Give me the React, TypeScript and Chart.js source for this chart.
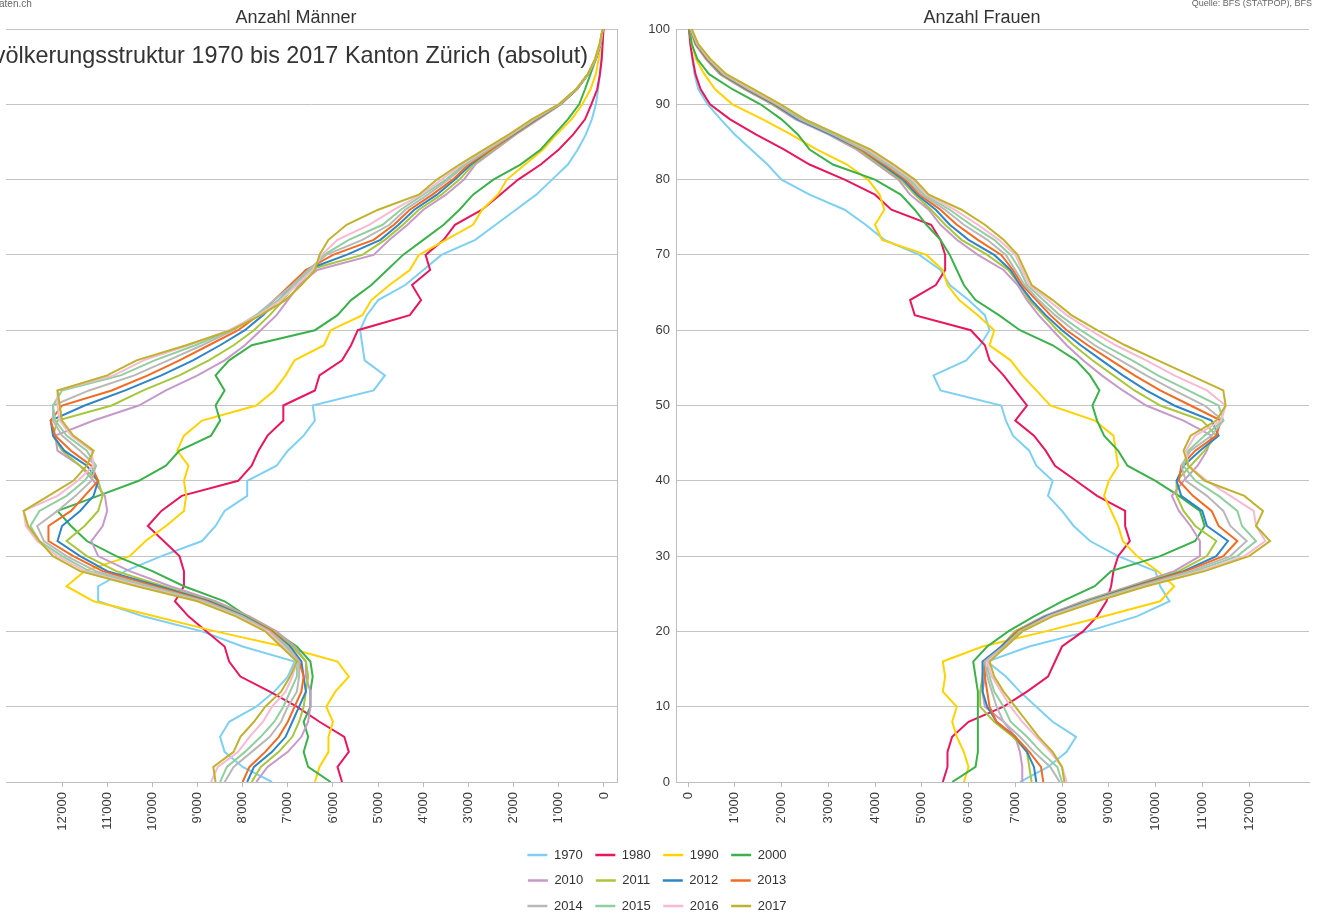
import { useEffect, useRef } from "react";
import { Chart, registerables } from "chart.js";

Chart.register(...registerables);

const FONT = "'Liberation Sans', Arial, sans-serif";

const AGES = [0, 2, 4, 6, 8, 10, 12, 14, 16, 18, 20, 22, 24, 26, 28, 30, 32, 34, 36, 38, 40, 42, 44, 46, 48, 50, 52, 54, 56, 58, 60, 62, 64, 66, 68, 70, 72, 74, 76, 78, 80, 82, 84, 86, 88, 90, 92, 94, 96, 98, 100];
const YEARS = ["1970", "1980", "1990", "2000", "2010", "2011", "2012", "2013", "2014", "2015", "2016", "2017"];
const COLORS = ["#7ed0f2", "#e8175d", "#ffd200", "#3cb14b", "#c699c9", "#a8c63c", "#2f84c6", "#f26b22", "#b8b8b8", "#91cf9f", "#f7b9d3", "#c0b22c"];
const X_TICKS = [0, 1000, 2000, 3000, 4000, 5000, 6000, 7000, 8000, 9000, 10000, 11000, 12000];

// Männer
const M1970 = [7350, 8000, 8400, 8500, 8300, 7700, 7300, 7000, 6850, 8000, 8900, 10200, 11200, 11200, 10600, 9800, 8900, 8600, 8400, 7900, 7900, 7250, 7000, 6650, 6400, 6450, 5100, 4850, 5300, 5350, 5400, 5250, 5000, 4400, 4000, 3600, 2850, 2400, 1950, 1500, 1150, 800, 580, 400, 270, 180, 130, 90, 60, 40, 20];
const M1980 = [5800, 5900, 5650, 5750, 6300, 6800, 7400, 8050, 8300, 8400, 8800, 9200, 9500, 9300, 9300, 9400, 9750, 10100, 9800, 9350, 8100, 7800, 7650, 7450, 7100, 7100, 6400, 6300, 5800, 5600, 5450, 4300, 4050, 4250, 3850, 3950, 3550, 3300, 2700, 2300, 1900, 1400, 1000, 680, 420, 280, 150, 90, 50, 30, 10];
const M1990 = [6400, 6300, 6100, 6100, 6000, 6150, 5950, 5650, 5900, 7100, 8600, 9950, 11300, 11900, 11500, 10500, 10150, 9700, 9300, 9250, 9300, 9200, 9450, 9300, 8900, 7700, 7300, 7050, 6850, 6200, 6050, 5350, 5150, 4750, 4300, 4100, 3500, 2900, 2700, 2350, 2150, 1750, 1350, 1050, 720, 480, 300, 180, 120, 70, 30];
const M2000 = [6050, 6550, 6650, 6550, 6650, 6500, 6500, 6450, 6500, 6800, 7300, 7900, 8400, 9300, 10000, 10800, 11450, 11800, 12100, 11200, 10300, 9700, 9400, 8700, 8500, 8600, 8400, 8600, 8300, 7800, 6400, 5900, 5600, 5150, 4800, 4450, 4000, 3550, 3200, 2900, 2450, 1850, 1400, 1100, 800, 550, 420, 300, 180, 80, 30];
const M2010 = [7700, 7450, 7000, 6700, 6550, 6500, 6500, 6600, 6600, 6850, 7250, 7850, 8600, 9600, 10500, 11200, 11350, 11100, 11000, 11050, 11300, 11600, 12100, 12150, 11300, 10300, 9700, 9000, 8400, 7950, 7600, 7250, 7000, 6750, 6350, 5100, 4750, 4350, 4000, 3500, 3100, 2850, 2400, 1950, 1450, 950, 600, 350, 180, 80, 30];
const M2011 = [7800, 7600, 7200, 6900, 6750, 6650, 6600, 6550, 6600, 6900, 7300, 7900, 8700, 9750, 10800, 11450, 11900, 11500, 11200, 11100, 11200, 11600, 12000, 12200, 12100, 10900, 10200, 9400, 8750, 8200, 7750, 7400, 7100, 6850, 6550, 5350, 4850, 4450, 4100, 3600, 3200, 2900, 2450, 1980, 1480, 960, 600, 350, 180, 80, 30];
const M2012 = [7900, 7750, 7350, 7050, 6900, 6750, 6600, 6650, 6700, 6950, 7350, 7950, 8750, 9850, 11000, 11600, 12100, 12000, 11600, 11300, 11200, 11450, 11950, 12200, 12250, 11500, 10600, 9800, 9100, 8500, 7950, 7550, 7200, 6900, 6600, 5700, 4950, 4550, 4200, 3700, 3300, 2950, 2500, 2000, 1500, 970, 600, 350, 180, 80, 30];
const M2013 = [8000, 7850, 7500, 7200, 7000, 6850, 6700, 6650, 6750, 7000, 7350, 8000, 8800, 9950, 11100, 11750, 12300, 12300, 11800, 11500, 11200, 11350, 11800, 12150, 12250, 12000, 10900, 10100, 9400, 8750, 8100, 7650, 7300, 6950, 6600, 6000, 5100, 4650, 4300, 3800, 3350, 3000, 2500, 2020, 1520, 980, 610, 355, 185, 85, 30];
const M2014 = [8400, 8200, 7800, 7400, 7150, 7000, 6800, 6750, 6750, 7000, 7400, 8000, 8850, 10050, 11250, 11900, 12400, 12550, 12100, 11700, 11350, 11250, 11600, 12000, 12200, 12200, 11400, 10400, 9650, 8900, 8200, 7700, 7300, 6900, 6550, 6150, 5350, 4750, 4400, 3900, 3450, 3050, 2550, 2040, 1540, 985, 610, 355, 185, 85, 30];
const M2015 = [8500, 8350, 7950, 7600, 7300, 7100, 6950, 6800, 6800, 7050, 7450, 8050, 8900, 10150, 11400, 12000, 12500, 12700, 12500, 11900, 11500, 11250, 11450, 11900, 12150, 12200, 12000, 10700, 9950, 9050, 8250, 7700, 7200, 6850, 6500, 6200, 5650, 4900, 4500, 4000, 3500, 3100, 2600, 2060, 1560, 990, 615, 358, 190, 90, 30];
const M2016 = [8700, 8550, 8100, 7850, 7550, 7350, 7050, 6900, 6800, 7100, 7450, 8100, 8950, 10250, 11500, 12100, 12550, 12800, 12850, 12100, 11650, 11300, 11350, 11800, 12050, 12100, 12100, 10850, 10200, 9200, 8300, 7650, 7150, 6800, 6450, 6250, 5900, 5200, 4650, 4050, 3600, 3150, 2620, 2080, 1580, 995, 618, 360, 195, 95, 30];
const M2017 = [8600, 8650, 8200, 8050, 7750, 7500, 7150, 6950, 6800, 7150, 7500, 8150, 9000, 10350, 11600, 12200, 12500, 12750, 12850, 12300, 11750, 11450, 11300, 11750, 12000, 12050, 12100, 11000, 10350, 9250, 8250, 7600, 7050, 6700, 6400, 6300, 6100, 5700, 5000, 4100, 3700, 3200, 2650, 2100, 1600, 1000, 620, 360, 200, 100, 30];

// Frauen
const F1970 = [7100, 7700, 8100, 8300, 7800, 7450, 7100, 6800, 6400, 7300, 8550, 9600, 10300, 10100, 10000, 9200, 8600, 8250, 8000, 7700, 7800, 7450, 7300, 6950, 6800, 6700, 5400, 5250, 5950, 6250, 6450, 6350, 6000, 5600, 5400, 4950, 4200, 3800, 3350, 2600, 2000, 1700, 1350, 1000, 700, 420, 220, 140, 90, 50, 30];
const F1980 = [5450, 5550, 5550, 5650, 6000, 6750, 7250, 7700, 7850, 8000, 8450, 8750, 8950, 9050, 9100, 9200, 9450, 9350, 9350, 8750, 8300, 7850, 7650, 7400, 7000, 7250, 7000, 6750, 6450, 6350, 6050, 4850, 4750, 5300, 5500, 5500, 5400, 5200, 4350, 4000, 3350, 2600, 2050, 1450, 900, 470, 270, 160, 100, 50, 20];
const F1990 = [5900, 6000, 5900, 5750, 5650, 5750, 5450, 5500, 5450, 6300, 7650, 8900, 10100, 10400, 10050, 9600, 9300, 9200, 9050, 8900, 9000, 9200, 9150, 9100, 8700, 7750, 7450, 7150, 6900, 6450, 6550, 6200, 5800, 5550, 5450, 5100, 4150, 4000, 4200, 4100, 3850, 3400, 2750, 2200, 1600, 950, 580, 350, 170, 80, 30];
const F2000 = [5650, 6150, 6200, 6200, 6200, 6200, 6200, 6150, 6100, 6400, 6850, 7400, 8000, 8700, 9050, 10100, 10850, 11050, 10950, 10500, 10000, 9400, 9200, 8900, 8750, 8650, 8800, 8600, 8300, 7800, 7100, 6650, 6150, 5900, 5750, 5600, 5400, 5100, 4850, 4550, 4000, 3100, 2600, 2350, 2000, 1550, 950, 450, 200, 80, 30];
const F2010 = [7150, 7150, 7100, 7000, 6750, 6350, 6300, 6350, 6450, 6700, 7000, 7600, 8450, 9450, 10400, 10950, 10950, 10750, 10500, 10350, 10600, 10900, 11100, 11200, 10600, 9800, 9300, 8850, 8450, 8100, 7800, 7500, 7250, 7050, 6750, 6200, 5750, 5400, 5150, 4750, 4500, 4050, 3600, 3000, 2300, 1800, 1200, 680, 380, 150, 50];
const F2011 = [7350, 7300, 7250, 6950, 6550, 6250, 6250, 6300, 6350, 6700, 7000, 7650, 8500, 9500, 10500, 11100, 11300, 10850, 10600, 10450, 10450, 10750, 11050, 11300, 11000, 10100, 9550, 9100, 8650, 8250, 7900, 7600, 7300, 7100, 6850, 6400, 5850, 5500, 5200, 4850, 4550, 4100, 3650, 3050, 2350, 1820, 1230, 700, 400, 160, 50];
const F2012 = [7450, 7400, 7250, 7000, 6600, 6400, 6300, 6300, 6300, 6700, 7050, 7650, 8550, 9550, 10600, 11300, 11550, 11100, 11000, 10550, 10450, 10600, 10950, 11350, 11200, 10400, 9800, 9300, 8850, 8400, 8000, 7650, 7350, 7100, 6900, 6550, 6000, 5600, 5300, 4900, 4600, 4150, 3700, 3050, 2350, 1850, 1250, 720, 410, 170, 60];
const F2013 = [7600, 7550, 7300, 7000, 6600, 6450, 6400, 6350, 6350, 6750, 7050, 7700, 8600, 9600, 10650, 11450, 11750, 11350, 11200, 10800, 10500, 10550, 10850, 11300, 11400, 10750, 10100, 9550, 9050, 8550, 8100, 7750, 7450, 7150, 6950, 6700, 6200, 5750, 5400, 4950, 4650, 4200, 3700, 3100, 2400, 1880, 1280, 740, 420, 180, 60];
const F2014 = [7950, 7750, 7400, 7100, 6750, 6600, 6500, 6400, 6350, 6750, 7100, 7700, 8600, 9650, 10750, 11600, 11950, 11600, 11450, 11100, 10650, 10550, 10750, 11200, 11450, 11050, 10400, 9800, 9250, 8700, 8250, 7850, 7500, 7200, 7000, 6800, 6400, 5900, 5500, 5000, 4700, 4250, 3750, 3100, 2400, 1900, 1300, 760, 440, 190, 60];
const F2015 = [8000, 7900, 7550, 7250, 6900, 6750, 6550, 6450, 6400, 6800, 7100, 7750, 8650, 9700, 10850, 11750, 12150, 11850, 11750, 11350, 10850, 10600, 10700, 11050, 11450, 11350, 10700, 10050, 9500, 8900, 8400, 7950, 7600, 7250, 7100, 6900, 6550, 6050, 5600, 5050, 4750, 4300, 3800, 3150, 2450, 1930, 1330, 780, 450, 200, 70];
const F2016 = [8100, 8000, 7750, 7450, 7150, 6900, 6700, 6500, 6400, 6800, 7150, 7750, 8700, 9750, 10950, 11900, 12350, 12150, 12100, 11600, 11100, 10700, 10650, 10850, 11400, 11500, 11100, 10400, 9800, 9150, 8600, 8100, 7700, 7300, 7150, 7000, 6650, 6200, 5700, 5100, 4800, 4350, 3850, 3200, 2500, 1950, 1360, 800, 460, 210, 70];
const F2017 = [8050, 8000, 7800, 7500, 7250, 7000, 6750, 6550, 6450, 6800, 7150, 7800, 8750, 9800, 11050, 12000, 12450, 12150, 12300, 11900, 11050, 10700, 10600, 10750, 11300, 11500, 11450, 10750, 10050, 9350, 8750, 8200, 7800, 7350, 7200, 7050, 6750, 6350, 5850, 5150, 4850, 4400, 3900, 3200, 2500, 1980, 1400, 820, 480, 220, 80];

const MEN = [M1970, M1980, M1990, M2000, M2010, M2011, M2012, M2013, M2014, M2015, M2016, M2017];
const WOMEN = [F1970, F1980, F1990, F2000, F2010, F2011, F2012, F2013, F2014, F2015, F2016, F2017];

const fmt = (v: number) => (v === 0 ? "0" : `${Math.round(v / 1000)}'000`);

const makeDatasets = (series: number[][]) =>
  YEARS.map((yr, i) => ({
    label: yr,
    data: AGES.map((a, j) => ({ x: series[i][j], y: a })),
    borderColor: COLORS[i],
    backgroundColor: COLORS[i],
    borderWidth: 2,
    pointRadius: 0,
    tension: 0,
    fill: false,
    order: YEARS.length - i,
  }));

type TextItem = { text: string; x: number; y: number; size: number; align: CanvasTextAlign; color: string };

const textPlugin = (id: string, items: TextItem[]) => ({
  id,
  afterDraw(chart: any) {
    const ctx = chart.ctx as CanvasRenderingContext2D;
    ctx.save();
    for (const t of items) {
      ctx.font = `${t.size}px ${FONT}`;
      ctx.fillStyle = t.color;
      ctx.textAlign = t.align;
      ctx.textBaseline = "middle";
      ctx.fillText(t.text, t.x, t.y);
    }
    ctx.restore();
  },
});

const xAxis = (reverse: boolean, min: number, max: number) => ({
  type: "linear" as const,
  reverse,
  min,
  max,
  afterBuildTicks: (axis: any) => {
    axis.ticks = X_TICKS.map((v) => ({ value: v }));
  },
  afterFit: (s: any) => {
    s.height = 133;
  },
  ticks: {
    autoSkip: false,
    maxRotation: 90,
    minRotation: 90,
    padding: 5,
    color: "#3a3a3a",
    font: { family: FONT, size: 13 },
    callback: (v: any) => fmt(Number(v)),
  },
  grid: { drawOnChartArea: false, drawTicks: true, tickLength: 5, color: "#bdbdbd" },
  border: { display: true, color: "#bdbdbd", width: 1 },
});

export default function App() {
  const leftRef = useRef<HTMLCanvasElement>(null);
  const rightRef = useRef<HTMLCanvasElement>(null);
  const legendRef = useRef<HTMLCanvasElement>(null);

  useEffect(() => {
    const charts: Chart[] = [];

    const left = new Chart(leftRef.current!, {
      type: "line",
      data: { datasets: makeDatasets(MEN) as any },
      options: {
        animation: false,
        responsive: false,
        maintainAspectRatio: false,
        events: [],
        layout: { padding: { left: 6, right: 23, top: 29, bottom: 0 } },
        plugins: { legend: { display: false }, tooltip: { enabled: false } },
        scales: {
          x: xAxis(true, -288, 13240) as any,
          y: {
            type: "linear",
            position: "right",
            min: 0,
            max: 100,
            afterFit: (s: any) => {
              s.width = 0;
            },
            ticks: { display: false, stepSize: 10 },
            grid: { color: "#c4c4c4", drawTicks: false, lineWidth: 1 },
            border: { display: true, color: "#bdbdbd" },
          },
        },
      },
      plugins: [
        textPlugin("leftTexts", [
          { text: "aten.ch", x: -1, y: 4, size: 10, align: "left", color: "#666666" },
          { text: "Anzahl Männer", x: 296, y: 18, size: 18, align: "center", color: "#333333" },
          { text: "Bevölkerungsstruktur 1970 bis 2017 Kanton Zürich (absolut)", x: 588, y: 57, size: 23.4, align: "right", color: "#333333" },
        ]),
      ],
    });
    charts.push(left);

    const right = new Chart(rightRef.current!, {
      type: "line",
      data: { datasets: makeDatasets(WOMEN) as any },
      options: {
        animation: false,
        responsive: false,
        maintainAspectRatio: false,
        events: [],
        layout: { padding: { left: 0, right: 8, top: 29, bottom: 0 } },
        plugins: { legend: { display: false }, tooltip: { enabled: false } },
        scales: {
          x: xAxis(false, -257, 13283) as any,
          y: {
            type: "linear",
            position: "left",
            min: 0,
            max: 100,
            afterFit: (s: any) => {
              s.width = 36;
            },
            ticks: { stepSize: 10, padding: 6, color: "#3a3a3a", font: { family: FONT, size: 13 } },
            grid: { color: "#c4c4c4", drawTicks: false, lineWidth: 1 },
            border: { display: true, color: "#bdbdbd" },
          },
        },
      },
      plugins: [
        textPlugin("rightTexts", [
          { text: "Anzahl Frauen", x: 342, y: 18, size: 18, align: "center", color: "#333333" },
          { text: "Quelle: BFS (STATPOP), BFS", x: 672, y: 4, size: 9, align: "right", color: "#666666" },
        ]),
      ],
    });
    charts.push(right);

    const legend = new Chart(legendRef.current!, {
      type: "line",
      data: {
        datasets: YEARS.map((yr, i) => ({
          label: yr,
          data: [],
          borderColor: COLORS[i],
          backgroundColor: COLORS[i],
          borderWidth: 2.5,
        })) as any,
      },
      options: {
        animation: false,
        responsive: false,
        maintainAspectRatio: false,
        events: [],
        layout: { padding: 0 },
        scales: { x: { display: false }, y: { display: false } },
        plugins: {
          tooltip: { enabled: false },
          legend: {
            display: true,
            position: "top",
            maxHeight: 150,
            labels: {
              usePointStyle: true,
              pointStyle: "line",
              pointStyleWidth: 20,
              padding: 12.5,
              color: "#333333",
              font: { family: FONT, size: 13 },
            },
          },
        },
      },
    });
    charts.push(legend);

    return () => {
      charts.forEach((c) => c.destroy());
    };
  }, []);

  return (
    <div
      style={{
        position: "fixed",
        left: 0,
        top: 0,
        width: 1317,
        height: 915,
        overflow: "hidden",
        background: "#ffffff",
      }}
    >
      <canvas ref={leftRef} width={640} height={915} style={{ position: "absolute", left: 0, top: 0 }} />
      <canvas ref={rightRef} width={677} height={915} style={{ position: "absolute", left: 640, top: 0 }} />
      <canvas ref={legendRef} width={320} height={110} style={{ position: "absolute", left: 497, top: 836 }} />
    </div>
  );
}
